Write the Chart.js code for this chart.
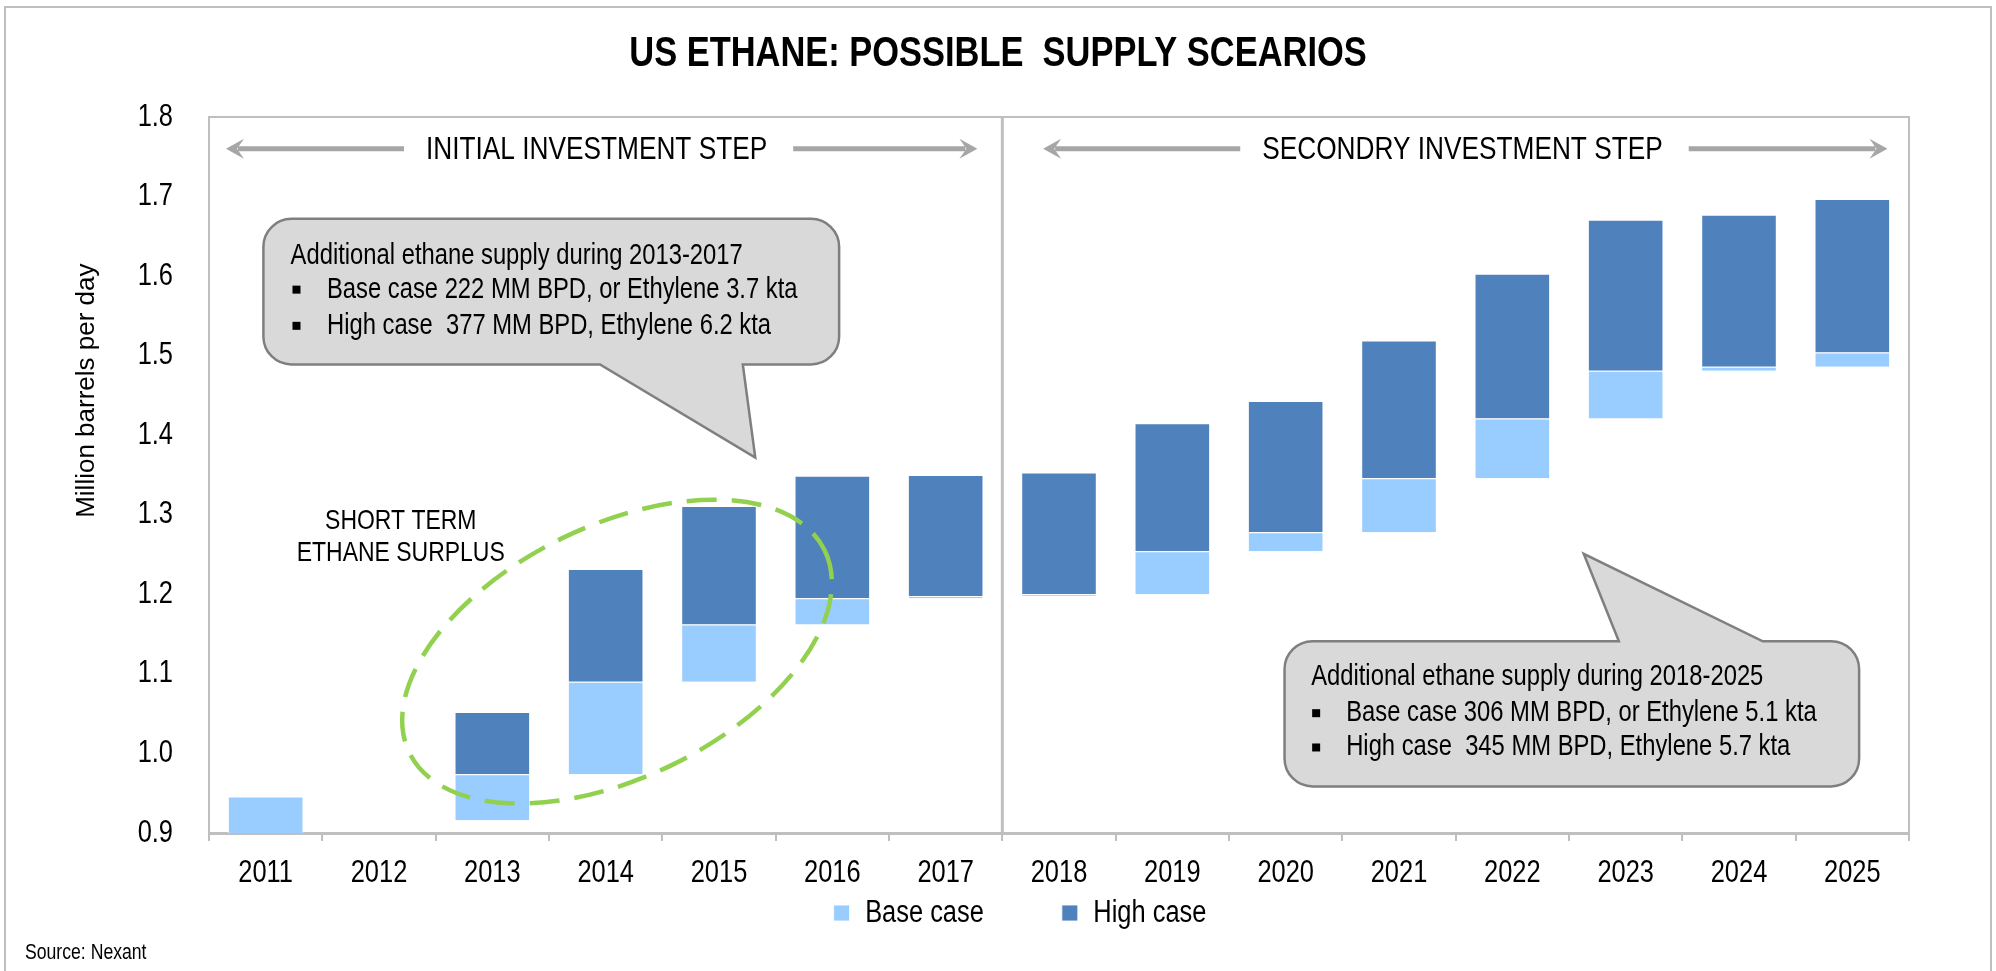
<!DOCTYPE html>
<html>
<head>
<meta charset="utf-8">
<title>US Ethane: possible supply scenarios</title>
<script src="https://cdn.jsdelivr.net/npm/chart.js@4.4.1/dist/chart.umd.min.js"></script>
<style>
    html, body { margin: 0; padding: 0; background: #ffffff; }
    #wrap { width: 1996px; height: 971px; }
</style>
</head>
<body>
<div id="wrap"><canvas id="supplyChart" width="1996" height="971"></canvas></div>
<script>
// Data (million barrels per day)
const years = ['2011', '2012', '2013', '2014', '2015', '2016', '2017', '2018',
               '2019', '2020', '2021', '2022', '2023', '2024', '2025'];
// base case bar: from previous level up to new base level
const baseFrom = [0.900, null, 0.916, 0.974, 1.090, 1.162, 1.195, 1.198,
                  1.200, 1.254, 1.278, 1.346, 1.421, 1.481, 1.486];
const baseTo   = [0.946, null, 0.974, 1.090, 1.162, 1.195, 1.198, 1.200,
                  1.254, 1.278, 1.346, 1.421, 1.481, 1.486, 1.504];
// high case bar sits on top of base level
const highTo   = [null, null, 1.052, 1.232, 1.311, 1.349, 1.350, 1.353,
                  1.415, 1.443, 1.519, 1.603, 1.671, 1.677, 1.697];
const yMin = 0.9;
const yMax = 1.8;
const yStep = 0.1;

// no narrow face is installed, so text in this family gets squeezed sideways (see below)
const NARROW = "'Liberation Sans Narrow', 'Liberation Sans', sans-serif";
const NARROW_SCALE = 0.82;
const GRID_GREY = '#bfbfbf';

// Annotation text and positions (x in category index, y in axis units)
const investSteps = [
    { text: 'INITIAL INVESTMENT STEP', from: -0.35, to: 6.28, mid: 2.92 },
    { text: 'SECONDRY INVESTMENT STEP', from: 6.86, to: 14.31, mid: 10.56 }
];
const stepLevel = 1.76;

const callouts = [
    {
        side: 'bottom', box: [-0.02, 5.06, 1.672, 1.489], base: [2.95, 4.21], tip: [4.32, 1.372],
        head: 'Additional ethane supply during 2013-2017',
        bullets: ['Base case 222 MM BPD, or Ethylene 3.7 kta', 'High case  377 MM BPD, Ethylene 6.2 kta'],
        textX: 0.22, bulletX: 0.272, bulletTextX: 0.541, rows: [1.625, 1.583, 1.5375]
    },
    {
        side: 'top', box: [8.99, 14.06, 1.141, 0.9586], base: [11.94, 13.21], tip: [11.63, 1.251],
        head: 'Additional ethane supply during 2018-2025',
        bullets: ['Base case 306 MM BPD, or Ethylene 5.1 kta', 'High case  345 MM BPD, Ethylene 5.7 kta'],
        textX: 9.225, bulletX: 9.269, bulletTextX: 9.534, rows: [1.096, 1.0506, 1.0075]
    }
];

const surplus = { lines: ['SHORT TERM', 'ETHANE SURPLUS'], x: 1.192, rows: [1.2913, 1.252] };
const surplusRing = { x: 3.10, y: 1.128, rx: 231, ry: 126, angle: -26 };

function squeezeNarrowText(context) {
    const fillText = context.fillText.bind(context);
    const measureText = context.measureText.bind(context);
    const isNarrow = () => context.font.indexOf('Narrow') !== -1;
    context.fillText = function(text, x, y, maxWidth) {
        if (!isNarrow()) {
            return maxWidth === undefined ? fillText(text, x, y) : fillText(text, x, y, maxWidth);
        }
        context.save();
        context.translate(x, y);
        context.scale(NARROW_SCALE, 1);
        if (maxWidth === undefined) {
            fillText(text, 0, 0);
        } else {
            fillText(text, 0, 0, maxWidth / NARROW_SCALE);
        }
        context.restore();
    };
    context.measureText = function(text) {
        const m = measureText(text);
        if (!isNarrow()) return m;
        return {
            width: m.width * NARROW_SCALE,
            actualBoundingBoxLeft: m.actualBoundingBoxLeft * NARROW_SCALE,
            actualBoundingBoxRight: m.actualBoundingBoxRight * NARROW_SCALE,
            actualBoundingBoxAscent: m.actualBoundingBoxAscent,
            actualBoundingBoxDescent: m.actualBoundingBoxDescent
        };
    };
}

function arrowHead(ctx, tipX, y, dir) {
    // dir = -1 points left, 1 points right
    ctx.beginPath();
    ctx.moveTo(tipX, y);
    ctx.lineTo(tipX - dir * 18, y - 10);
    ctx.lineTo(tipX - dir * 11, y);
    ctx.lineTo(tipX - dir * 18, y + 10);
    ctx.closePath();
    ctx.fill();
}

function calloutPath(ctx, c, X, Y) {
    const x0 = X(c.box[0]), x1 = X(c.box[1]);
    const y0 = Y(c.box[2]), y1 = Y(c.box[3]);
    const b1 = X(c.base[0]), b2 = X(c.base[1]);
    const tx = X(c.tip[0]), ty = Y(c.tip[1]);
    const r = 28;
    ctx.beginPath();
    ctx.moveTo(x0 + r, y0);
    if (c.side === 'top') {
        ctx.lineTo(b1, y0);
        ctx.lineTo(tx, ty);
        ctx.lineTo(b2, y0);
    }
    ctx.arcTo(x1, y0, x1, y1, r);
    ctx.arcTo(x1, y1, x0, y1, r);
    if (c.side === 'bottom') {
        ctx.lineTo(b2, y1);
        ctx.lineTo(tx, ty);
        ctx.lineTo(b1, y1);
    }
    ctx.arcTo(x0, y1, x0, y0, r);
    ctx.arcTo(x0, y0, x1, y0, r);
    ctx.closePath();
}

const decorations = {
    id: 'decorations',
    afterLayout(chart) {
        // legend sits tighter under the year labels than the layout gives it
        const lg = chart.legend;
        const p = lg.options.labels.padding;
        const fontSize = lg.options.labels.font.size;
        const top = chart.chartArea.bottom + 80 - p - fontSize / 2;
        lg.top = top;
        lg.height = p + fontSize + 10;
        lg.bottom = top + lg.height;
        lg.left += 22;
        lg.right += 22;
    },
    beforeDatasetsDraw(chart) {
        const ctx = chart.ctx;
        const area = chart.chartArea;
        ctx.save();
        // frame round the plot
        ctx.strokeStyle = GRID_GREY;
        ctx.lineWidth = 2;
        ctx.strokeRect(area.left, area.top, area.right - area.left, area.bottom - area.top);
        ctx.restore();
    },
    afterDraw(chart) {
        const ctx = chart.ctx;
        const area = chart.chartArea;
        const xs = chart.scales.x, ys = chart.scales.y;
        const step = xs.getPixelForValue(1) - xs.getPixelForValue(0);
        const X = i => xs.getPixelForValue(0) + i * step;
        const Y = v => ys.getPixelForValue(v);

        ctx.save();

        // outer border
        ctx.strokeStyle = GRID_GREY;
        ctx.lineWidth = 2;
        ctx.strokeRect(5, 7, chart.width - 10, chart.height + 10);

        // divider between the two steps
        ctx.lineWidth = 3;
        ctx.beginPath();
        ctx.moveTo(X(6.5), area.top);
        ctx.lineTo(X(6.5), area.bottom);
        ctx.stroke();

        // step headings with arrows
        ctx.font = '32px ' + NARROW;
        ctx.textAlign = 'center';
        ctx.textBaseline = 'middle';
        investSteps.forEach(s => {
            const y = Y(stepLevel);
            const mid = X(s.mid);
            const half = ctx.measureText(s.text).width / 2;
            ctx.fillStyle = '#000000';
            ctx.fillText(s.text, mid, y + 1);
            ctx.strokeStyle = '#a6a6a6';
            ctx.fillStyle = '#a6a6a6';
            ctx.lineWidth = 5;
            ctx.beginPath();
            ctx.moveTo(X(s.from) + 12, y);
            ctx.lineTo(mid - half - 22, y);
            ctx.moveTo(mid + half + 26, y);
            ctx.lineTo(X(s.to) - 12, y);
            ctx.stroke();
            arrowHead(ctx, X(s.from), y, -1);
            arrowHead(ctx, X(s.to), y, 1);
        });

        // dashed ring round the surplus years
        ctx.save();
        ctx.strokeStyle = '#92d050';
        ctx.lineWidth = 4.5;
        ctx.setLineDash([30, 15]);
        ctx.beginPath();
        ctx.ellipse(X(surplusRing.x), Y(surplusRing.y), surplusRing.rx, surplusRing.ry,
                    surplusRing.angle * Math.PI / 180, 0, Math.PI * 2);
        ctx.stroke();
        ctx.restore();

        ctx.fillStyle = '#000000';
        ctx.font = '28px ' + NARROW;
        ctx.textAlign = 'center';
        surplus.lines.forEach((t, k) => ctx.fillText(t, X(surplus.x), Y(surplus.rows[k])));

        // callout boxes
        callouts.forEach(c => {
            calloutPath(ctx, c, X, Y);
            ctx.fillStyle = '#d9d9d9';
            ctx.fill();
            ctx.strokeStyle = '#7f7f7f';
            ctx.lineWidth = 2.5;
            ctx.stroke();

            ctx.fillStyle = '#000000';
            ctx.font = '29px ' + NARROW;
            ctx.textAlign = 'left';
            ctx.textBaseline = 'middle';
            ctx.fillText(c.head, X(c.textX), Y(c.rows[0]));
            c.bullets.forEach((t, k) => {
                const y = Y(c.rows[k + 1]);
                ctx.fillRect(X(c.bulletX) - 4, y - 4, 8, 8);
                ctx.fillText(t, X(c.bulletTextX), y);
            });
        });

        // axis title, sits higher than the middle of the axis
        ctx.save();
        ctx.translate(area.left - 122, Y(1.456));
        ctx.rotate(-Math.PI / 2);
        ctx.font = "26px 'Liberation Sans', Arial, sans-serif";
        ctx.textAlign = 'center';
        ctx.fillText('Million barrels per day', 0, 0);
        ctx.restore();

        // source note
        ctx.font = '21.5px ' + NARROW;
        ctx.textAlign = 'left';
        ctx.fillText('Source: Nexant', 25, chart.height - 18);

        ctx.restore();
    }
};

const canvas = document.getElementById('supplyChart');
squeezeNarrowText(canvas.getContext('2d'));

new Chart(canvas, {
    type: 'bar',
    data: {
        labels: years,
        datasets: [
            {
                label: 'Base case',
                data: years.map((y, i) => baseFrom[i] == null ? null : [baseFrom[i], baseTo[i]]),
                backgroundColor: '#99ccff',
                borderColor: 'rgba(255,255,255,0.85)',
                borderWidth: 1,
                grouped: false,
                barPercentage: 0.667,
                categoryPercentage: 1.0
            },
            {
                label: 'High case',
                data: years.map((y, i) => highTo[i] == null ? null : [baseTo[i], highTo[i]]),
                backgroundColor: '#4f81bd',
                borderColor: 'rgba(255,255,255,0.85)',
                borderWidth: 1,
                grouped: false,
                barPercentage: 0.667,
                categoryPercentage: 1.0
            }
        ]
    },
    options: {
        responsive: false,
        devicePixelRatio: 1,
        animation: false,
        layout: { padding: { left: 87, right: 87, top: 0, bottom: 56 } },
        scales: {
            x: {
                offset: true,
                grid: { offset: true, drawOnChartArea: false, drawTicks: true, tickLength: 8, color: GRID_GREY, lineWidth: 2 },
                border: { color: GRID_GREY, width: 3 },
                ticks: { color: '#000000', font: { family: NARROW, size: 31 }, padding: 14, maxRotation: 0, autoSkip: false },
                afterFit: s => { s.height = 62; }
            },
            y: {
                min: yMin,
                max: yMax,
                grid: { display: false },
                border: { color: GRID_GREY, width: 2 },
                ticks: {
                    stepSize: yStep,
                    color: '#000000',
                    padding: 28,
                    font: { family: NARROW, size: 31 },
                    callback: v => Number(v).toFixed(1)
                },
                afterFit: s => { s.width = 122; }
            }
        },
        plugins: {
            title: {
                display: true,
                text: 'US ETHANE: POSSIBLE  SUPPLY SCEARIOS',
                color: '#000000',
                font: { family: NARROW, size: 42, weight: 'bold' },
                padding: { top: 29, bottom: 37.6 }
            },
            legend: {
                position: 'bottom',
                maxHeight: 20,
                labels: {
                    boxWidth: 16,
                    boxHeight: 16,
                    padding: 78,
                    color: '#000000',
                    font: { family: NARROW, size: 31 }
                }
            },
            tooltip: { enabled: false }
        }
    },
    plugins: [decorations]
});
</script>
</body>
</html>
